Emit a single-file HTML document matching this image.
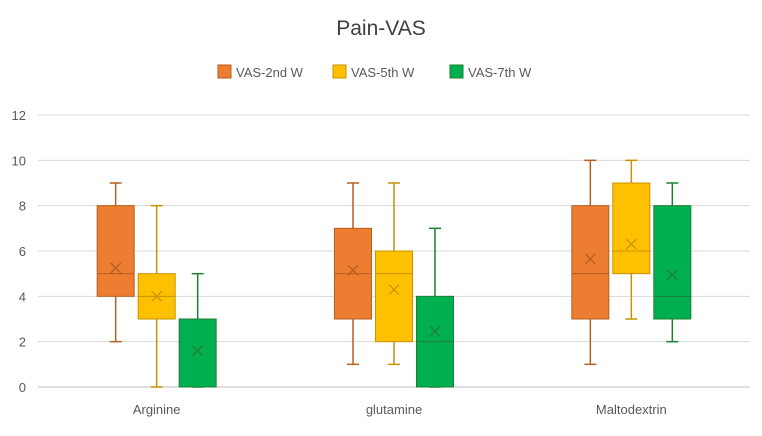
<!DOCTYPE html>
<html><head><meta charset="utf-8"><style>
body{margin:0;background:#fff;font-family:"Liberation Sans",sans-serif;}
svg text{font-family:"Liberation Sans",sans-serif;}
</style></head><body>
<svg id="chart" width="762" height="431" xmlns="http://www.w3.org/2000/svg">
<text x="381" y="35" text-anchor="middle" font-size="21" fill="#404040">Pain-VAS</text>
<g id="legend"></g>
<g id="grid"></g>
<g id="plot"></g>
</svg>
<script>
const categories = ["Arginine","glutamine","Maltodextrin"];
const seriesNames = ["VAS-2nd W","VAS-5th  W","VAS-7th W"];
// [min, q1, median, q3, max, mean] per category
const s2nd = [[2,4,5,8,9,5.25],[1,3,5,7,9,5.15],[1,3,5,8,10,5.65]];
const s5th = [[0,3,4,5,8,4.0],[1,2,5,6,9,4.3],[3,5,6,9,10,6.3]];
const s7th = [[0,0,0,3,5,1.6],[0,0,2,4,7,2.45],[2,3,4,8,9,4.95]];
const yTicks = [0,2,4,6,8,10,12];

const fills=["#ED7D31","#FFC000","#00B050"];
const strokes=["#B85E1F","#C79300","#1E7E34"];
const series=[s2nd,s5th,s7th];
const NS="http://www.w3.org/2000/svg";
const L=38,R=750,T=115,B=387,yMax=12;
const y=v=>B-(v/yMax)*(B-T);
const catW=(R-L)/categories.length;
const x=i=>L+catW*(i+0.5);
function mk(tag,attrs,parent){const e=document.createElementNS(NS,tag);for(const k in attrs)e.setAttribute(k,attrs[k]);parent.appendChild(e);return e;}
const grid=document.getElementById('grid'),plot=document.getElementById('plot'),leg=document.getElementById('legend');
yTicks.forEach(t=>{
  const ln=mk('line',{x1:L,x2:R,y1:y(t),y2:y(t),stroke:t===0?'#bfbfbf':'#d9d9d9','stroke-width':1},grid);
  
  
  const tx=mk('text',{x:26,y:y(t)+5,'text-anchor':'end','font-size':13,fill:'#595959'},grid);
  tx.textContent=t;
  
  
});
categories.forEach((c,i)=>{
  const tx=mk('text',{x:x(i),y:414,'text-anchor':'middle','font-size':13,fill:'#595959'},grid);
  tx.textContent=c;
  
  
});
const bw=37,gap=41;
series.forEach((s,si)=>{
  s.forEach((d,ci)=>{
    const cx=x(ci)+(si-1)*gap;
    const g=mk('g',{},plot);
    
    
    const st=strokes[si];
    mk('line',{x1:cx,x2:cx,y1:y(d[0]),y2:y(d[1]),stroke:st,'stroke-width':1.5},g);
    mk('line',{x1:cx,x2:cx,y1:y(d[4]),y2:y(d[3]),stroke:st,'stroke-width':1.5},g);
    mk('line',{x1:cx-6,x2:cx+6,y1:y(d[0]),y2:y(d[0]),stroke:st,'stroke-width':1.5},g);
    mk('line',{x1:cx-6,x2:cx+6,y1:y(d[4]),y2:y(d[4]),stroke:st,'stroke-width':1.5},g);
    mk('rect',{x:cx-bw/2,y:y(d[3]),width:bw,height:y(d[1])-y(d[3]),fill:fills[si],stroke:st},g);
    mk('line',{x1:cx-bw/2,x2:cx+bw/2,y1:y(d[2]),y2:y(d[2]),stroke:st},g);
    const m=y(d[5]);
    mk('path',{d:`M${cx-5} ${m-5}L${cx+5} ${m+5}M${cx-5} ${m+5}L${cx+5} ${m-5}`,stroke:st,'stroke-width':1.3},g);
  });
});
const lx=[218,333,450];
seriesNames.forEach((n,i)=>{
  const g=mk('g',{},leg);
  
  
  mk('rect',{x:lx[i],y:65,width:13,height:13,fill:fills[i],stroke:strokes[i]},g);
  const t=mk('text',{x:lx[i]+18,y:77,'font-size':13,fill:'#595959','xml:space':'preserve'},g);
  t.textContent=n;
});
</script>
</body></html>
